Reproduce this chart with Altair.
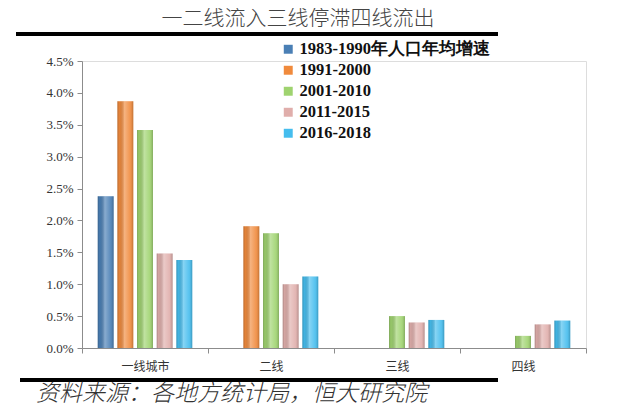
import altair as alt
import pandas as pd

categories = ["一线城市", "二线", "三线", "四线"]
series = ["1983-1990年人口年均增速", "1991-2000", "2001-2010", "2011-2015", "2016-2018"]
colors = ["#4a7fb5", "#f08a3c", "#9fd36f", "#e0aeab", "#45bdee"]

s_1983_1990 = [2.38, None, None, None]
s_1991_2000 = [3.87, 1.91, None, None]
s_2001_2010 = [3.42, 1.80, 0.50, 0.19]
s_2011_2015 = [1.48, 1.00, 0.40, 0.37]
s_2016_2018 = [1.38, 1.12, 0.44, 0.43]

title_text = "一二线流入三线停滞四线流出"
source_text = "资料来源：各地方统计局，恒大研究院"

all_series = [s_1983_1990, s_1991_2000, s_2001_2010, s_2011_2015, s_2016_2018]
rows = []
for name, vals in zip(series, all_series):
    for cat, v in zip(categories, vals):
        if v is not None:
            rows.append({"category": cat, "series": name, "value": v / 100.0})
df = pd.DataFrame(rows)

W, H = 504, 287

x_enc = alt.X("category:N", sort=categories,
              scale=alt.Scale(domain=categories, paddingInner=0, paddingOuter=0),
              axis=alt.Axis(title=None, labelAngle=0, tickBand="extent",
                            domainColor="#8c8c8c", tickColor="#8c8c8c", tickSize=5,
                            labelFont="Noto Sans CJK SC", labelFontSize=12,
                            labelColor="#333333", labelPadding=8))
xo_enc = alt.XOffset("series:N", sort=series,
                     scale=alt.Scale(domain=series, paddingInner=0.19, paddingOuter=0.8))
y_enc = alt.Y("value:Q",
              scale=alt.Scale(domain=[0, 0.045], nice=False),
              axis=alt.Axis(title=None, format=".1%", grid=False,
                            values=[0, 0.005, 0.01, 0.015, 0.02, 0.025, 0.03, 0.035, 0.04, 0.045],
                            domainColor="#8c8c8c", tickColor="#8c8c8c", tickSize=5,
                            labelFont="Liberation Serif", labelFontSize=13,
                            labelColor="#333333", labelPadding=4))

bars = alt.Chart(df).mark_bar().encode(
    x=x_enc, xOffset=xo_enc, y=y_enc,
    color=alt.Color("series:N", sort=series,
                    scale=alt.Scale(domain=series, range=colors),
                    legend=alt.Legend(title=None, orient="none", legendX=198, legendY=-20,
                                      symbolType="square", symbolSize=80,
                                      symbolStrokeWidth=0, labelOffset=3,
                                      labelFont="Liberation Serif", labelFontSize=16.5,
                                      labelFontWeight="bold", labelColor="#111111",
                                      rowPadding=4, labelLimit=400)),
)

shine = alt.Chart(df).mark_bar(
    fill=alt.LinearGradient(
        gradient="linear", x1=0, x2=1, y1=0, y2=0,
        stops=[
            alt.GradientStop(offset=0, color="rgba(0,0,0,0.22)"),
            alt.GradientStop(offset=0.12, color="rgba(0,0,0,0.05)"),
            alt.GradientStop(offset=0.45, color="rgba(255,255,255,0.35)"),
            alt.GradientStop(offset=0.8, color="rgba(255,255,255,0.1)"),
            alt.GradientStop(offset=1, color="rgba(0,0,0,0.2)"),
        ],
    )
).encode(x=x_enc, xOffset=xo_enc, y=y_enc)

one = alt.Data(values=[{}])

title = alt.Chart(one).mark_text(
    text=title_text, font="Noto Sans CJK SC", fontSize=21, fontWeight=300,
    color="#444444", align="center", baseline="middle"
).encode(x=alt.value(216), y=alt.value(-42))

top_rule = alt.Chart(one).mark_rule(color="#000000", strokeWidth=4).encode(
    x=alt.value(-66), x2=alt.value(416), y=alt.value(-27))

bottom_rule = alt.Chart(one).mark_rule(color="#000000", strokeWidth=4).encode(
    x=alt.value(-62), x2=alt.value(416), y=alt.value(319))

source = alt.Chart(one).mark_text(
    text=source_text, font="Noto Sans CJK SC", fontSize=23, fontStyle="italic",
    fontWeight=300, color="#333333", align="left", baseline="middle"
).encode(x=alt.value(-46), y=alt.value(333))

chart = alt.layer(bars, shine, title, top_rule, bottom_rule, source).properties(
    width=W, height=H,
    autosize=alt.AutoSizeParams(type="none"),
    padding={"left": 74, "top": 53, "right": 46, "bottom": 62},
).configure_view(stroke=None).configure(background="#ffffff")

chart.save("out.html", embed_options={"renderer": "svg", "actions": False})
